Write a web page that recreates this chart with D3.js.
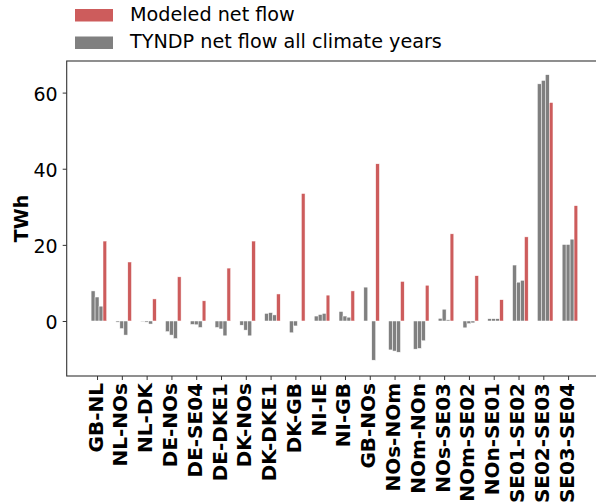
<!DOCTYPE html>
<html>
<head>
<meta charset="utf-8">
<script src="https://cdn.jsdelivr.net/npm/d3@7"></script>
<style>
  body { margin: 0; background: #fff; }
  svg { display: block; }
  text { font-family: "DejaVu Sans", sans-serif; }
</style>
</head>
<body>
<svg id="chart" width="596" height="503"></svg>
<script>
const categories = ["GB-NL","NL-NOs","NL-DK","DE-NOs","DE-SE04","DE-DKE1","DK-NOs","DK-DKE1","DK-GB","NI-IE","NI-GB","GB-NOs","NOs-NOm","NOm-NOn","NOs-SE03","NOm-SE02","NOn-SE01","SE01-SE02","SE02-SE03","SE03-SE04"];
const modeled = [21.0, 15.5, 5.8, 11.6, 5.3, 13.9, 21.0, 7.1, 33.5, 6.8, 7.9, 41.3, 10.4, 9.4, 22.9, 11.9, 5.6, 22.1, 57.4, 30.3];
const tyndpYear1 = [7.9, -0.3, -0.1, -2.8, -0.9, -1.7, -1.1, 2.0, -3.1, 1.3, 2.5, 8.9, -7.6, -7.4, 0.7, -1.8, 0.6, 14.7, 62.3, 20.1];
const tyndpYear2 = [6.3, -2.0, -0.3, -3.7, -1.0, -2.1, -2.4, 2.2, -1.3, 1.7, 1.3, 0.0, -7.9, -7.2, 3.1, -0.7, 0.6, 10.2, 63.2, 20.1];
const tyndpYear3 = [3.9, -3.7, -0.8, -4.6, -1.7, -3.9, -3.9, 1.6, 0.0, 2.0, 1.0, -10.3, -8.2, -5.2, 0.3, -0.5, 0.6, 10.7, 64.7, 21.5];
const yTicks = [0, 20, 40, 60];
const legendLabels = ["Modeled net flow", "TYNDP net flow all climate years"];

const RED = "#cd5c5c", GRAY = "#808080";
const svg = d3.select("#chart");
const L = 66.7, T = 61, B = 376, R = 640;

const x = d3.scaleLinear().domain([-1.224, 21.9]).range([L, R]);
const y = d3.scaleLinear().domain([-14.45, 68.3]).range([B, T]);

const gw = 0.16; // per-bar slot width in category units
const greySeries = [tyndpYear1, tyndpYear2, tyndpYear3];
const bars = svg.append("g");
greySeries.forEach((s, j) => {
  bars.selectAll(null).data(s).enter().append("rect")
    .attr("x", (d, i) => x(i + (j - 1) * gw - gw / 2))
    .attr("width", x(gw) - x(0))
    .attr("y", d => Math.min(y(d), y(0)))
    .attr("height", d => Math.abs(y(d) - y(0)))
    .attr("fill", GRAY)
    .attr("stroke", "#fff").attr("stroke-width", 0.5);
});
bars.selectAll(null).data(modeled).enter().append("rect")
  .attr("x", (d, i) => x(i + 1.5 * gw))
  .attr("width", x(0.15) - x(0))
  .attr("y", d => Math.min(y(d), y(0)))
  .attr("height", d => Math.abs(y(d) - y(0)))
  .attr("fill", RED)
  .attr("stroke", "#fff").attr("stroke-width", 0.5);

// frame
svg.append("rect").attr("x", L).attr("y", T).attr("width", R - L).attr("height", B - T)
  .attr("fill", "none").attr("stroke", "#333").attr("stroke-width", 1.1);

// y axis
const ya = svg.append("g").attr("transform", `translate(${L},0)`)
  .call(d3.axisLeft(y).tickValues(yTicks).tickSize(4).tickPadding(5).tickFormat(d3.format("d")));
ya.select(".domain").remove();
ya.selectAll("line").attr("stroke", "#333");
ya.selectAll("text").attr("font-size", 19).attr("fill", "#000").attr("font-family", "DejaVu Sans").attr("dy", "0.4em");

// x axis
const xa = svg.append("g").attr("transform", `translate(0,${B})`)
  .call(d3.axisBottom(x).tickValues(d3.range(categories.length)).tickSize(4).tickFormat(i => categories[i]));
xa.select(".domain").remove();
xa.selectAll("line").attr("stroke", "#333");
xa.selectAll("text")
  .attr("font-size", 20).attr("font-weight", "bold").attr("fill", "#000").attr("font-family", "DejaVu Sans")
  .attr("text-anchor", "end")
  .attr("transform", "rotate(-90)")
  .attr("x", -7).attr("y", 0).attr("dy", "0.25em");

// y label
svg.append("text").attr("transform", `translate(28,${(T + B) / 2}) rotate(-90)`)
  .attr("text-anchor", "middle").attr("font-size", 19).attr("font-weight", "bold").text("TWh");

// legend
const lg = svg.append("g");
[RED, GRAY].forEach((c, k) => {
  lg.append("rect").attr("x", 75).attr("y", 9 + k * 27.5).attr("width", 38).attr("height", 12.5).attr("fill", c);
  lg.append("text").attr("x", 130).attr("y", 20.5 + k * 27.5).attr("font-size", 19.2).attr("fill", "#000").text(legendLabels[k]);
});
</script>
</body>
</html>
